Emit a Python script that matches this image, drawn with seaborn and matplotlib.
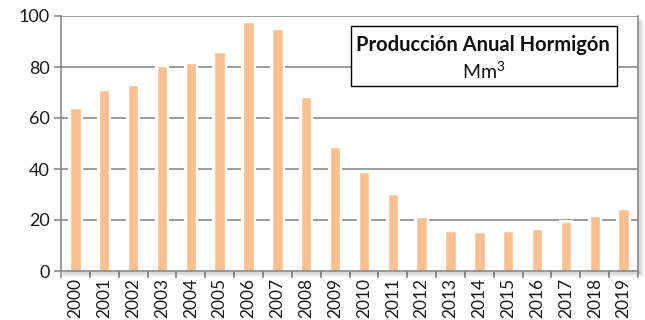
import matplotlib
matplotlib.use("Agg")
import matplotlib.pyplot as plt
import matplotlib.patheffects as pe
from matplotlib.patches import Rectangle
from matplotlib.lines import Line2D
import seaborn as sns
import pandas as pd
import numpy as np

years = ["2000", "2001", "2002", "2003", "2004", "2005", "2006", "2007", "2008", "2009",
         "2010", "2011", "2012", "2013", "2014", "2015", "2016", "2017", "2018", "2019"]
production = [64.0, 70.8, 72.8, 80.5, 81.7, 86.0, 97.5, 94.8, 68.3, 48.6,
              38.7, 30.2, 21.0, 15.7, 15.4, 15.8, 16.6, 19.3, 21.7, 24.2]
y_ticks = [0, 20, 40, 60, 80, 100]
title_line1 = "Producción Anual Hormigón"
title_line2 = "Mm$^{3}$"

sns.set_style("white")
plt.rcParams["font.family"] = ["Lato", "DejaVu Sans"]
plt.rcParams["mathtext.fontset"] = "custom"
plt.rcParams["mathtext.rm"] = "Lato"

df = pd.DataFrame({"year": years, "value": production})

W, H = 645, 320
L, R, T, B = 61, 638, 16, 271
fig = plt.figure(figsize=(W / 100, H / 100), dpi=100)
ax = fig.add_axes([L / W, 1 - B / H, (R - L) / W, (B - T) / H])

# soft drop shadow along the bottom and right edges of the plot area
for k in range(1, 6):
    a = 0.16 * (1 - k / 6)
    fig.add_artist(Line2D([(L + 2) / W, (R + k) / W], [1 - (B + k) / H] * 2,
                          transform=fig.transFigure, color="black", alpha=a, lw=1))
    fig.add_artist(Line2D([(R + k) / W] * 2, [1 - (T + 4) / H, 1 - (B + k) / H],
                          transform=fig.transFigure, color="black", alpha=a, lw=1))

grid_color = "#8a8a8a"
for t in y_ticks[1:]:
    ax.axhline(t, color=grid_color, lw=1.2, zorder=0)

sns.barplot(data=df, x="year", y="value", color="#FAC090", width=0.36,
            saturation=1, ax=ax, zorder=2)
for bar in ax.patches:
    bar.set_path_effects([pe.Stroke(linewidth=3, foreground="white"), pe.Normal()])

ax.set_xlim(-0.5, len(years) - 0.5)
ax.set_ylim(0, 100)
ax.set_yticks(y_ticks)
ax.set_xlabel("")
ax.set_ylabel("")

for side in ["left", "bottom", "right"]:
    ax.spines[side].set_visible(True)
    ax.spines[side].set_color(grid_color)
    ax.spines[side].set_linewidth(1.2)
ax.spines["top"].set_visible(False)

ax.tick_params(axis="y", which="major", length=5, width=1.2, color=grid_color,
               labelsize=13, pad=3, left=True)
ax.tick_params(axis="x", which="major", length=0, labelsize=12.5, pad=5, rotation=90)
ax.set_xticks(np.arange(-0.5, len(years)), minor=True)
ax.tick_params(axis="x", which="minor", length=5, width=1.2, color=grid_color, bottom=True)
for lbl in ax.get_xticklabels() + ax.get_yticklabels():
    lbl.set_color("#1a1a1a")

# title box
ax.add_patch(Rectangle((0.503, 0.725), 0.461, 0.236, transform=ax.transAxes,
                       facecolor="white", edgecolor="black", lw=1.0, zorder=5))
ax.text(0.732, 0.885, title_line1, transform=ax.transAxes, ha="center", va="center",
        fontsize=14.5, fontweight="bold", color="#111111", zorder=6)
ax.text(0.732, 0.785, title_line2, transform=ax.transAxes, ha="center", va="center",
        fontsize=14, color="#111111", zorder=6)

fig.savefig("out.png", dpi=100)
